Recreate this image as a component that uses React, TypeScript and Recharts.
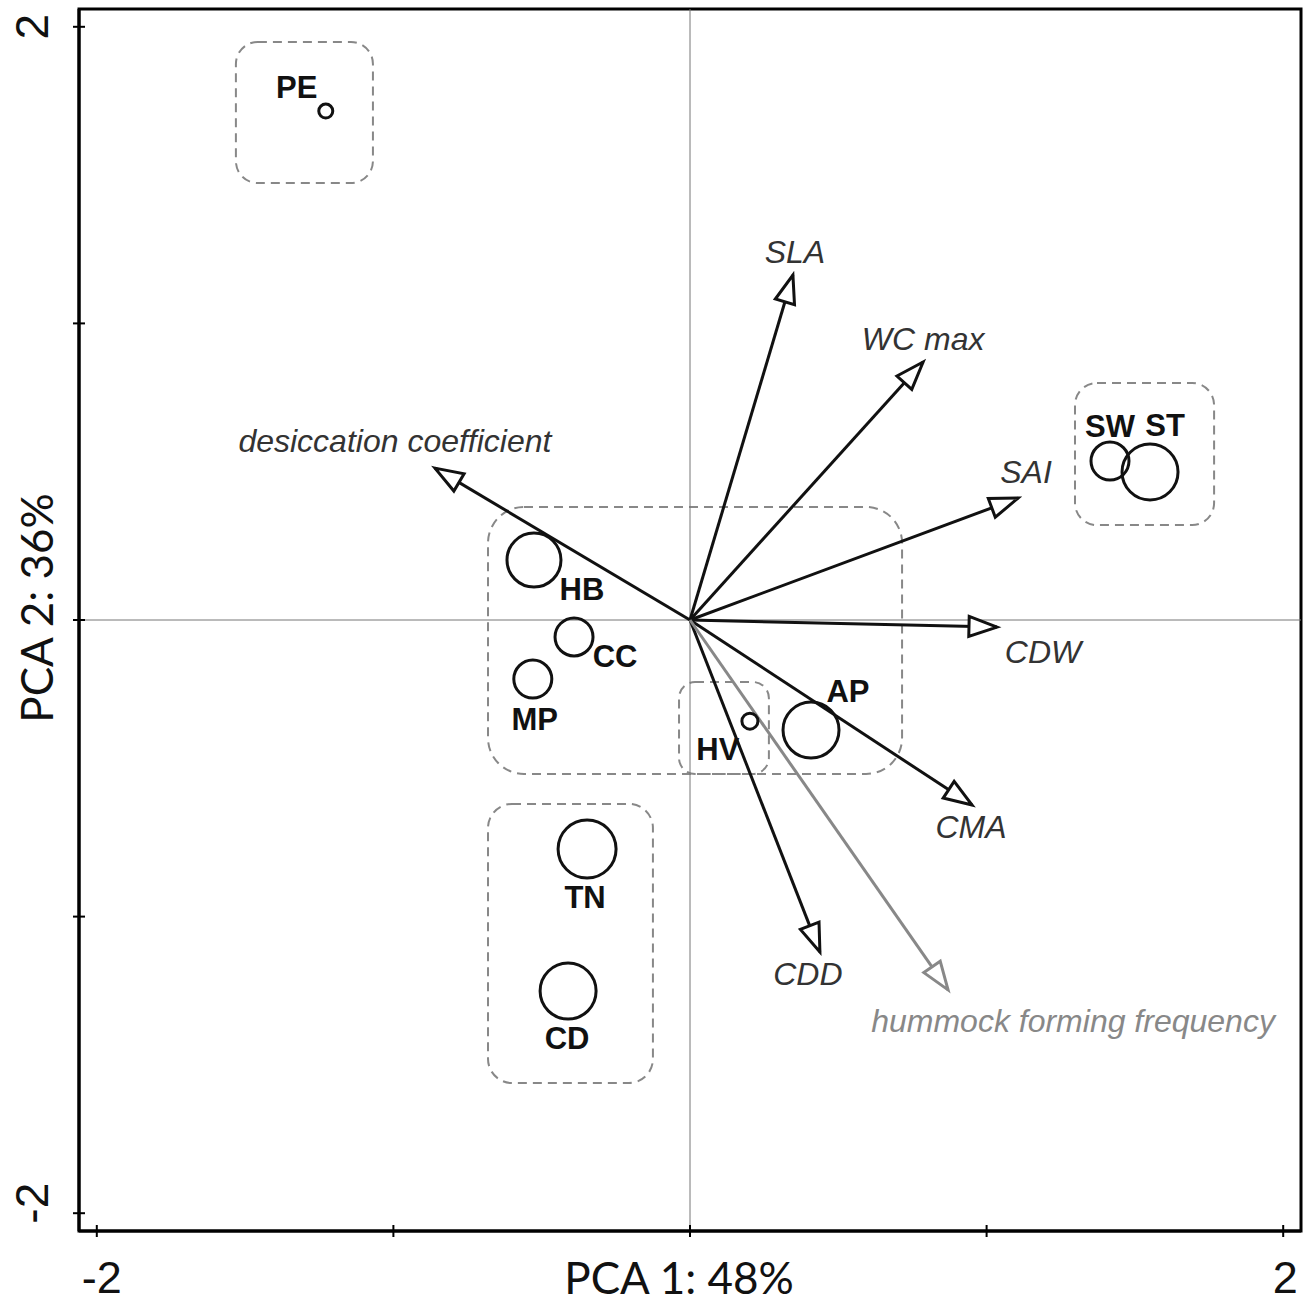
import React from 'react';
import { ScatterChart, Scatter, XAxis, YAxis, ReferenceLine, ReferenceArea } from 'recharts';

// ---- data ----
const axisDomain: [number, number] = [-2.06, 2.06];
const axisTicks = [-2, -1, 0, 1, 2];
const labeledTicks = [-2, 2];
const xTitle = 'PCA 1: 48%';
const yTitle = 'PCA 2: 36%';

const siteNames = ['PE', 'SW', 'ST', 'HB', 'CC', 'MP', 'HV', 'AP', 'TN', 'CD'];
const siteX = [-1.228, 1.416, 1.551, -0.526, -0.391, -0.53, 0.202, 0.408, -0.347, -0.411];
const siteY = [1.716, 0.536, 0.499, 0.202, -0.057, -0.199, -0.341, -0.371, -0.772, -1.251];
const siteSize = [7, 19, 28, 27, 19, 19, 8, 28, 29, 28];

const traitNames = ['SLA', 'WC max', 'desiccation coefficient', 'SAI', 'CDW', 'CMA', 'CDD', 'hummock forming frequency'];
const traitX = [0.347, 0.786, -0.86, 1.106, 1.035, 0.951, 0.438, 0.87];
const traitY = [1.163, 0.87, 0.512, 0.411, -0.024, -0.624, -1.119, -1.247];
const traitSupplementary = [false, false, false, false, false, false, false, true];

const groupX1 = [-1.531, 1.298, -0.681, -0.037, -0.681];
const groupX2 = [-1.069, 1.767, 0.715, 0.266, -0.125];
const groupYTop = [1.949, 0.799, 0.381, -0.209, -0.62];
const groupYBottom = [1.473, 0.32, -0.519, -0.519, -1.561];

// ---- styles (positions of labels relative to marks, in px) ----
const siteLabelOffset: Record<string, [number, number]> = {
  PE: [-29, -24],
  SW: [0, -35],
  ST: [15, -46],
  HB: [48, 29],
  CC: [41, 20],
  MP: [2, 40],
  HV: [-32, 28],
  AP: [37, -39],
  TN: [-2, 49],
  CD: [-1, 47],
};
const traitLabelOffset: Record<string, [number, number]> = {
  SLA: [2, -23],
  'WC max': [0, -23],
  'desiccation coefficient': [-40, -27],
  SAI: [8, -26],
  CDW: [46, 25],
  CMA: [-1, 22],
  CDD: [-12, 22],
  'hummock forming frequency': [125, 31],
};
const groupRadius = [22, 22, 36, 16, 24];

const sites = siteNames.map((name, i) => ({ name, x: siteX[i], y: siteY[i], r: siteSize[i] }));
const traits = traitNames.map((name, i) => ({
  name,
  supp: traitSupplementary[i],
  data: [
    { x: 0, y: 0, name, tip: false },
    { x: traitX[i], y: traitY[i], name, tip: true },
  ],
}));

const SANS = '"Liberation Sans", Arial, sans-serif';
const TITLE = 'Lato, "Open Sans", sans-serif';

const SiteShape = (props: any) => {
  const { cx, cy, payload } = props;
  const off = siteLabelOffset[payload.name] || [0, 0];
  return (
    <g>
      <circle cx={cx} cy={cy} r={payload.r} fill="none" stroke="#111" strokeWidth={3} />
      <text
        x={cx + off[0]}
        y={cy + off[1]}
        textAnchor="middle"
        dominantBaseline="central"
        fontFamily={SANS}
        fontWeight="bold"
        fontSize={31}
        fill="#111"
      >
        {payload.name}
      </text>
    </g>
  );
};

const makeArrowShape = (color: string, labelColor: string) => (props: any) => {
  const { cx, cy, payload } = props;
  if (!payload || !payload.tip) return <g />;
  const ang = Math.atan2(-payload.y, payload.x);
  const L = 28;
  const W = 10;
  const bx = cx - L * Math.cos(ang);
  const by = cy - L * Math.sin(ang);
  const px = -Math.sin(ang) * W;
  const py = Math.cos(ang) * W;
  const pts = `${cx},${cy} ${bx + px},${by + py} ${bx - px},${by - py}`;
  const off = traitLabelOffset[payload.name] || [0, 0];
  return (
    <g>
      <polygon points={pts} fill="#fff" stroke={color} strokeWidth={3} strokeLinejoin="miter" />
      <text
        x={cx + off[0]}
        y={cy + off[1]}
        textAnchor="middle"
        dominantBaseline="central"
        fontFamily={SANS}
        fontStyle="italic"
        fontSize={32}
        fill={labelColor}
      >
        {payload.name}
      </text>
    </g>
  );
};

const XTick = (props: any) => {
  const { x, y, payload } = props;
  if (!labeledTicks.includes(payload.value)) return <g />;
  const dx = payload.value < 0 ? 5 : 2;
  return (
    <text x={x + dx} y={y + 32} textAnchor="middle" dominantBaseline="central" fontFamily={SANS} fontSize={45} fill="#111">
      {String(payload.value)}
    </text>
  );
};

const YTick = (props: any) => {
  const { x, y, payload } = props;
  if (!labeledTicks.includes(payload.value)) return <g />;
  const cx = x - 33;
  const cy = payload.value < 0 ? y - 10 : y;
  return (
    <text
      x={cx}
      y={cy}
      transform={`rotate(-90, ${cx}, ${cy})`}
      textAnchor="middle"
      dominantBaseline="central"
      fontFamily={SANS}
      fontSize={46}
      fill="#111"
    >
      {String(payload.value)}
    </text>
  );
};

const XTitle = (props: any) => {
  const vb = props.viewBox || { x: 79, y: 1231, width: 1222, height: 72 };
  const cx = vb.x + vb.width / 2 - 11;
  const cy = vb.y + 46;
  return (
    <text x={cx} y={cy} textAnchor="middle" dominantBaseline="central" fontFamily={TITLE} fontSize={44} fill="#111">
      {xTitle}
    </text>
  );
};

const YTitle = (props: any) => {
  const vb = props.viewBox || { x: 0, y: 9, width: 79, height: 1222 };
  const cx = 36;
  const cy = vb.y + vb.height / 2 - 12;
  return (
    <text
      x={cx}
      y={cy}
      transform={`rotate(-90, ${cx}, ${cy})`}
      textAnchor="middle"
      dominantBaseline="central"
      fontFamily={TITLE}
      fontSize={44}
      fill="#111"
    >
      {yTitle}
    </text>
  );
};

const makeBoxShape = (radius: number) => (p: any) => (
  <rect
    x={p.x}
    y={p.y}
    width={p.width}
    height={p.height}
    rx={radius}
    ry={radius}
    fill="none"
    stroke="#888"
    strokeWidth={2}
    strokeDasharray="9 6"
  />
);

export default function App() {
  return (
    <div style={{ position: 'absolute', left: 0, top: 0, width: 1304, height: 1303, background: '#fff' }}>
      <ScatterChart width={1304} height={1303} margin={{ top: 9, right: 3, bottom: 0, left: 0 }}>
        <XAxis
          type="number"
          dataKey="x"
          domain={axisDomain}
          ticks={axisTicks}
          allowDataOverflow
          height={72}
          axisLine={{ stroke: '#000', strokeWidth: 3 }}
          tickLine={{ stroke: '#000', strokeWidth: 2, transform: 'translate(0,-6)' }}
          tickSize={12}
          tick={XTick}
          interval={0}
          label={<XTitle />}
        />
        <YAxis
          type="number"
          dataKey="y"
          domain={axisDomain}
          ticks={axisTicks}
          allowDataOverflow
          width={79}
          axisLine={{ stroke: '#000', strokeWidth: 3 }}
          tickLine={{ stroke: '#000', strokeWidth: 2, transform: 'translate(6,0)' }}
          tickSize={12}
          tick={YTick}
          interval={0}
          label={<YTitle />}
        />
        <ReferenceArea
          x1={axisDomain[0]}
          x2={axisDomain[1]}
          y1={axisDomain[0]}
          y2={axisDomain[1]}
          fill="none"
          fillOpacity={0}
          stroke="#000"
          strokeWidth={3}
          ifOverflow="visible"
        />
        <ReferenceLine x={0} stroke="#777" strokeWidth={1} />
        <ReferenceLine y={0} stroke="#777" strokeWidth={1} />
        {groupX1.map((x1, i) => (
          <ReferenceArea
            key={'g' + i}
            x1={x1}
            x2={groupX2[i]}
            y1={groupYBottom[i]}
            y2={groupYTop[i]}
            shape={makeBoxShape(groupRadius[i])}
            ifOverflow="visible"
          />
        ))}
        {traits.map((t) => (
          <Scatter
            key={t.name}
            data={t.data}
            line={{ stroke: t.supp ? '#888' : '#111', strokeWidth: 3 }}
            shape={makeArrowShape(t.supp ? '#888' : '#111', t.supp ? '#888' : '#333')}
            isAnimationActive={false}
          />
        ))}
        <Scatter data={sites} shape={SiteShape} isAnimationActive={false} />
      </ScatterChart>
    </div>
  );
}
